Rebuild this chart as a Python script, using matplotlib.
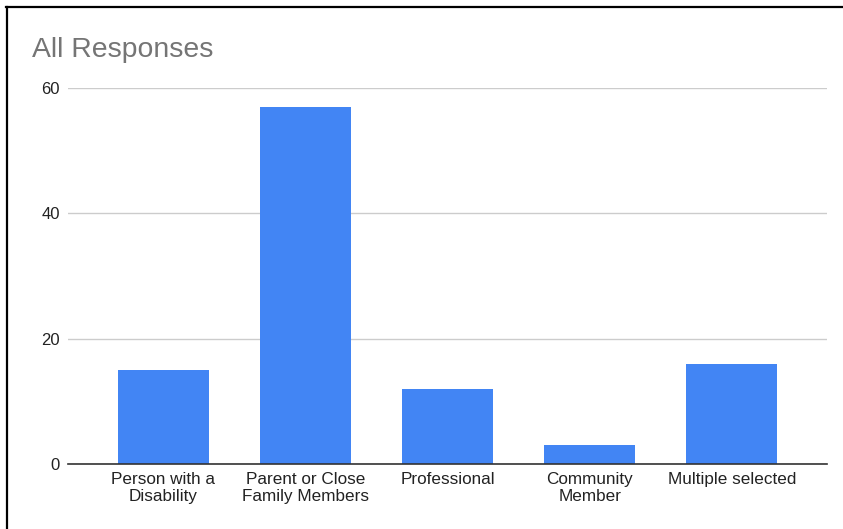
import matplotlib
matplotlib.use('Agg')
import matplotlib.pyplot as plt
from matplotlib.lines import Line2D

plt.rcParams['font.family'] = ['Liberation Sans', 'DejaVu Sans']

categories = ['Person with a\nDisability', 'Parent or Close\nFamily Members', 'Professional',
              'Community\nMember', 'Multiple selected']
values = [15, 57, 12, 3, 16]
yticks = [0, 20, 40, 60]

W, H = 843, 529
fig = plt.figure(figsize=(W / 100, H / 100), dpi=100)
ax = fig.add_axes([68 / W, 1 - 464 / H, (827 - 68) / W, (464 - 88) / H])

x = range(len(categories))
ax.bar(x, values, width=0.64, color='#4285f4', zorder=3)

ax.set_xlim(-0.67, 4.67)
ax.set_ylim(0, 60)
ax.set_yticks(yticks)
ax.set_xticks(list(x))
ax.set_xticklabels(categories, fontsize=12.3, color='#222222', linespacing=1.1)
ax.tick_params(axis='y', length=0, labelsize=12, labelcolor='#222222', pad=6)
ax.tick_params(axis='x', length=0, pad=6)
ax.grid(axis='y', color='#cccccc', linewidth=1, zorder=0)
for s in ['top', 'right', 'left']:
    ax.spines[s].set_visible(False)
ax.spines['bottom'].set_color('#333333')
ax.spines['bottom'].set_linewidth(1.2)
ax.spines['bottom'].set_zorder(4)

fig.text(32 / W, 1 - 57 / H, 'All Responses', fontsize=20.4, color='#757575', ha='left', va='baseline')

# frame around the screenshot (top and left only)
fig.add_artist(Line2D([6 / W, 1], [1 - 7 / H, 1 - 7 / H], color='black', linewidth=1.6,
                      transform=fig.transFigure))
fig.add_artist(Line2D([6.5 / W, 6.5 / W], [0, 1 - 7 / H], color='black', linewidth=1.6,
                      transform=fig.transFigure))

fig.savefig('out.png', dpi=100)
